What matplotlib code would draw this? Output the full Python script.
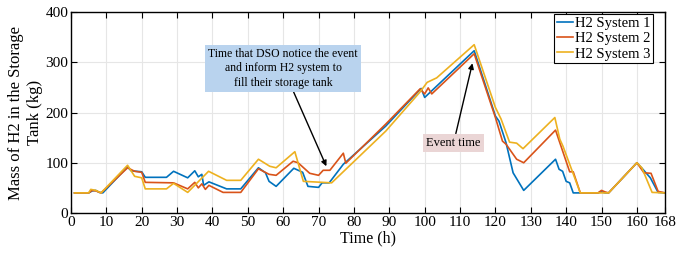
import matplotlib.pyplot as plt

# hydrogen mass in the storage tanks (kg)
t1 = [1, 5, 6, 7, 8, 9, 16, 17, 20, 21, 27, 29, 33, 35, 36, 37, 37.5, 39, 44, 48,
      53, 55, 56, 58, 63, 65.5, 67, 70, 71, 73, 77, 89, 99, 100, 114, 120, 121,
      123, 125, 128, 137, 138, 139, 140, 141, 142, 149, 150, 151, 152, 160,
      161.7, 163.8, 166, 168]
m1 = [40, 40, 44, 45, 41, 40, 92, 84, 82, 71, 71, 83, 70, 84, 72, 77, 55, 62, 48, 48,
      90, 80, 63, 53, 89, 81, 53, 51, 60, 60, 97, 173, 248, 230, 323, 193, 183,
      140, 80, 45, 107, 87, 83, 63, 60, 40, 40, 42, 40, 40, 100,
      87, 70, 41, 40]

t2 = [1, 5, 6, 7, 8.5, 16, 18, 20, 21, 29, 33, 35, 36, 37, 38, 39, 43, 48, 53, 56,
      58, 62.8, 64.2, 67.5, 70, 71.3, 73.2, 77, 77.7, 89, 98.7, 100, 101, 102,
      114, 120, 122, 123, 126, 128, 137, 141, 142, 144, 149, 150, 151, 152, 160,
      162, 164, 166, 168]
m2 = [40, 40, 45, 44, 40, 90, 83, 81, 61, 60, 48, 61, 50, 58, 47, 55, 41, 41, 88, 77,
      75, 103, 100, 79, 75, 85, 85, 119, 99, 177, 247, 237, 249, 237,
      317, 190, 143, 137, 107, 100, 165, 82, 82, 40, 40, 45, 42, 40, 100,
      80, 79, 43, 40]

t3 = [1, 5, 5.6, 7, 8.5, 16, 18, 20, 21, 27, 29, 33, 38.9, 44, 48, 53, 56.2, 58,
      63.3, 65.7, 73.7, 89, 98.7, 100.7, 103.4, 114, 120, 121.6, 124, 126, 127.8,
      136.8, 138.2, 139.1, 144, 152, 160, 161.4, 164.3, 168]
m3 = [40, 40, 47, 45, 40, 95, 73, 70, 48, 48, 59, 41, 83, 65, 65, 107, 93, 90,
      122, 63, 60, 163, 241, 260, 269, 335, 210, 187, 141, 139, 128,
      190, 147, 133, 40, 40, 100, 90, 41, 40]

plt.rcParams['font.family'] = 'Liberation Serif'
plt.rcParams['font.size'] = 11

fig = plt.figure(figsize=(6.76, 2.56), dpi=100)
ax = fig.add_axes([0.105, 0.168, 0.879, 0.785])

ax.plot(t1, m1, color='#0072BD', lw=1.2, label='H2 System 1')
ax.plot(t2, m2, color='#D95319', lw=1.2, label='H2 System 2')
ax.plot(t3, m3, color='#EDB120', lw=1.2, label='H2 System 3')

ax.set_xlim(0, 168)
ax.set_ylim(0, 400)
ax.set_xticks(list(range(0, 170, 10)) + [168])
ax.set_yticks(range(0, 401, 100))
ax.grid(True, color='#e6e6e6', lw=0.8)
ax.set_axisbelow(True)
ax.tick_params(direction='in', top=True, right=True, length=4, pad=2)
for s in ax.spines.values():
    s.set_linewidth(1.0)

ax.set_xlabel('Time (h)', labelpad=1, fontsize=11.5)
ax.set_ylabel('Mass of H2 in the Storage\nTank (kg)', labelpad=2, fontsize=12)

leg = ax.legend(loc='upper right', bbox_to_anchor=(0.98, 0.992), fontsize=10.5,
                fancybox=False, framealpha=1, edgecolor='black', borderpad=0.2,
                labelspacing=0.15, handlelength=1.1, handletextpad=0.15,
                borderaxespad=0)
leg.get_frame().set_linewidth(0.8)

ax.annotate('Time that DSO notice the event\nand inform H2 system to\nfill their storage tank',
            xy=(72.2, 93), xytext=(60, 288), ha='center', va='center', fontsize=8.5,
            linespacing=1.3,
            bbox=dict(boxstyle='square,pad=0.25', fc='#b9d3ee', ec='none'),
            arrowprops=dict(arrowstyle='-|>', color='black', lw=1.0,
                            mutation_scale=8, shrinkA=0, shrinkB=0))
ax.annotate('Event time', xy=(113.5, 298), xytext=(108.2, 140),
            ha='center', va='center', fontsize=9,
            bbox=dict(boxstyle='square,pad=0.25', fc='#ead5d5', ec='none'),
            arrowprops=dict(arrowstyle='-|>', color='black', lw=1.0,
                            mutation_scale=8, shrinkA=0, shrinkB=0))

plt.savefig('out.png', dpi=100)
